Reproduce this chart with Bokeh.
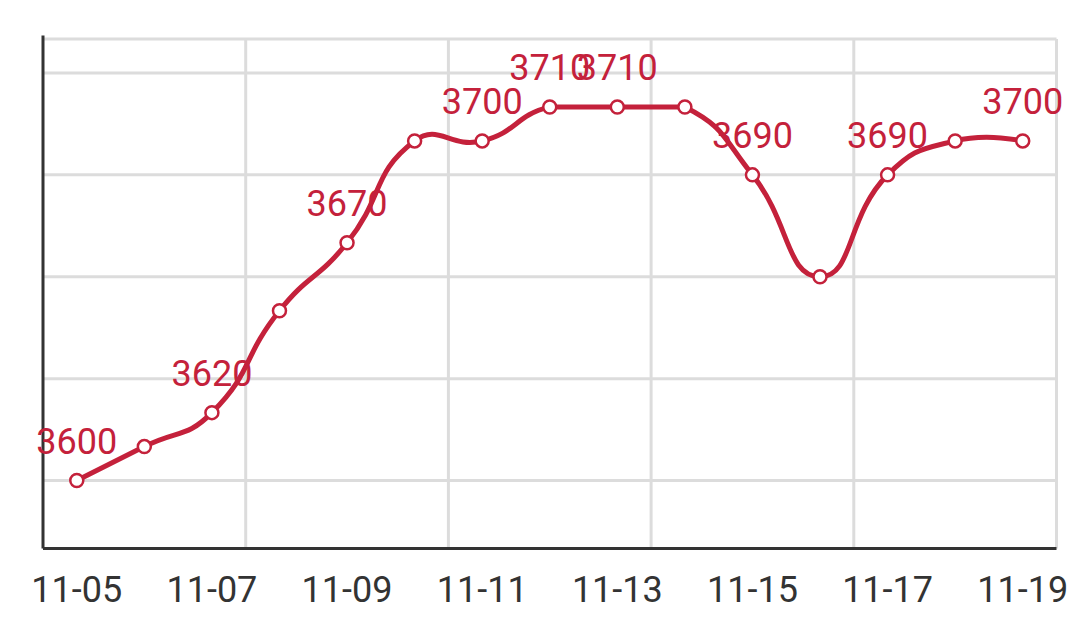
import math
from bokeh.plotting import figure
from bokeh.models import FixedTicker, ColumnDataSource
from bokeh.embed import file_html
from bokeh.resources import INLINE
from bokeh.core.properties import value

# ---- data ----
dates = ["11-05", "11-06", "11-07", "11-08", "11-09", "11-10", "11-11", "11-12",
         "11-13", "11-14", "11-15", "11-16", "11-17", "11-18", "11-19"]
prices = [3600, 3610, 3620, 3650, 3670, 3700, 3700, 3710, 3710, 3710, 3690, 3660, 3690, 3700, 3700]
label_shown = [True, False, True, False, True, False, True, True, True, False, True, False, True, False, True]
tick_idx = [0, 2, 4, 6, 8, 10, 12, 14]
y_grid_vals = [3600, 3630, 3660, 3690, 3720]
x_grid_vals = [2.5, 5.5, 8.5, 11.5]

RED = "#c4213b"
GRID = "#dcdcdc"
AXIS = "#333333"

# plot-area extents (data) and their pixel geometry
X0, X1 = -0.5, len(dates) - 0.5
Y0, Y1 = 3580, 3730
INNER_W, INNER_H = 1013.5, 509.5
sx = INNER_W / (X1 - X0)
sy = INNER_H / (Y1 - Y0)
PAD_L, PAD_R, PAD_T, PAD_B = 42.5, 20, 18.5, 4     # extra frame room (px) so labels are not clipped
FIG_W = 1076
TOP_BORDER, BOT_BORDER = 20, 78
FRAME_H = INNER_H + PAD_T + PAD_B
FIG_H = int(round(TOP_BORDER + FRAME_H + BOT_BORDER))

p = figure(width=FIG_W, height=FIG_H,
           x_range=(X0 - PAD_L / sx, X1 + PAD_R / sx),
           y_range=(Y0 - PAD_B / sy, Y1 + PAD_T / sy),
           y_axis_location=None,
           output_backend="svg", toolbar_location=None,
           min_border_left=0, min_border_right=0,
           min_border_top=TOP_BORDER, min_border_bottom=BOT_BORDER)
p.background_fill_color = "white"
p.border_fill_color = "white"
p.outline_line_color = None
p.xgrid.grid_line_color = None
p.ygrid.grid_line_color = None

# x axis labels only (line drawn manually)
p.xaxis.ticker = FixedTicker(ticks=tick_idx)
p.xaxis.major_label_overrides = {i: dates[i] for i in tick_idx}
p.xaxis.major_tick_line_color = None
p.xaxis.minor_tick_line_color = None
p.xaxis.major_tick_out = 0
p.xaxis.major_tick_in = 0
p.xaxis.major_label_standoff = 23
p.xaxis.major_label_text_font = "Roboto"
p.xaxis.major_label_text_font_size = "36px"
p.xaxis.major_label_text_color = AXIS
p.xaxis.axis_line_color = None

# grid lines
p.segment(x0=x_grid_vals, y0=[Y0] * len(x_grid_vals), x1=x_grid_vals, y1=[Y1] * len(x_grid_vals),
          line_color=GRID, line_width=3)
p.segment(x0=[X0] * len(y_grid_vals), y0=y_grid_vals, x1=[X1] * len(y_grid_vals), y1=y_grid_vals,
          line_color=GRID, line_width=3)
# top and right border
p.segment(x0=[X0, X1], y0=[Y1, Y0], x1=[X1, X1], y1=[Y1, Y1], line_color=GRID, line_width=3)
# axis lines
p.segment(x0=[X0, X0], y0=[Y0, Y0], x1=[X0, X1], y1=[Y1 + 1, Y0], line_color=AXIS, line_width=3)

# ---- smooth curve (ECharts-like bezier smoothing, computed in screen space) ----
xs = list(range(len(prices)))
pts = [(x * sx, y * sy) for x, y in zip(xs, prices)]
minx = min(q[0] for q in pts); maxx = max(q[0] for q in pts)
miny = min(q[1] for q in pts); maxy = max(q[1] for q in pts)
smooth = 0.5
cps = []
n = len(pts)
for i in range(n):
    if i == 0 or i == n - 1:
        cps.append(pts[i])
        continue
    pp, pt, pn = pts[i - 1], pts[i], pts[i + 1]
    vx = (pn[0] - pp[0]) * smooth
    vy = (pn[1] - pp[1]) * smooth
    d0 = math.hypot(pt[0] - pp[0], pt[1] - pp[1])
    d1 = math.hypot(pt[0] - pn[0], pt[1] - pn[1])
    s = d0 + d1
    if s:
        d0 /= s
        d1 /= s
    c0 = (pt[0] - vx * d0, pt[1] - vy * d0)
    c1 = (pt[0] + vx * d1, pt[1] + vy * d1)
    c0 = (min(max(c0[0], minx), maxx), min(max(c0[1], miny), maxy))
    c1 = (min(max(c1[0], minx), maxx), min(max(c1[1], miny), maxy))
    cps.append(c0)
    cps.append(c1)

seg = dict(x0=[], y0=[], x1=[], y1=[], cx0=[], cy0=[], cx1=[], cy1=[])
for i in range(n - 1):
    a = cps[2 * i]
    b = cps[2 * i + 1]
    seg["x0"].append(xs[i]); seg["y0"].append(prices[i])
    seg["x1"].append(xs[i + 1]); seg["y1"].append(prices[i + 1])
    seg["cx0"].append(a[0] / sx); seg["cy0"].append(a[1] / sy)
    seg["cx1"].append(b[0] / sx); seg["cy1"].append(b[1] / sy)

p.bezier(x0="x0", y0="y0", x1="x1", y1="y1", cx0="cx0", cy0="cy0", cx1="cx1", cy1="cy1",
         source=ColumnDataSource(seg), line_color=RED, line_width=5, line_cap="round")

p.scatter(xs, prices, size=13, marker="circle", fill_color="white", line_color=RED, line_width=2.5)

lx = [x for x, s in zip(xs, label_shown) if s]
ly = [y for y, s in zip(prices, label_shown) if s]
lt = [str(y) for y, s in zip(prices, label_shown) if s]
p.text(lx, ly, text=lt, text_font=value("Roboto"), text_font_size="36px", text_color=RED,
       text_align="center", text_baseline="alphabetic", y_offset=-40)

open("out.html", "w").write(file_html(p, INLINE))
